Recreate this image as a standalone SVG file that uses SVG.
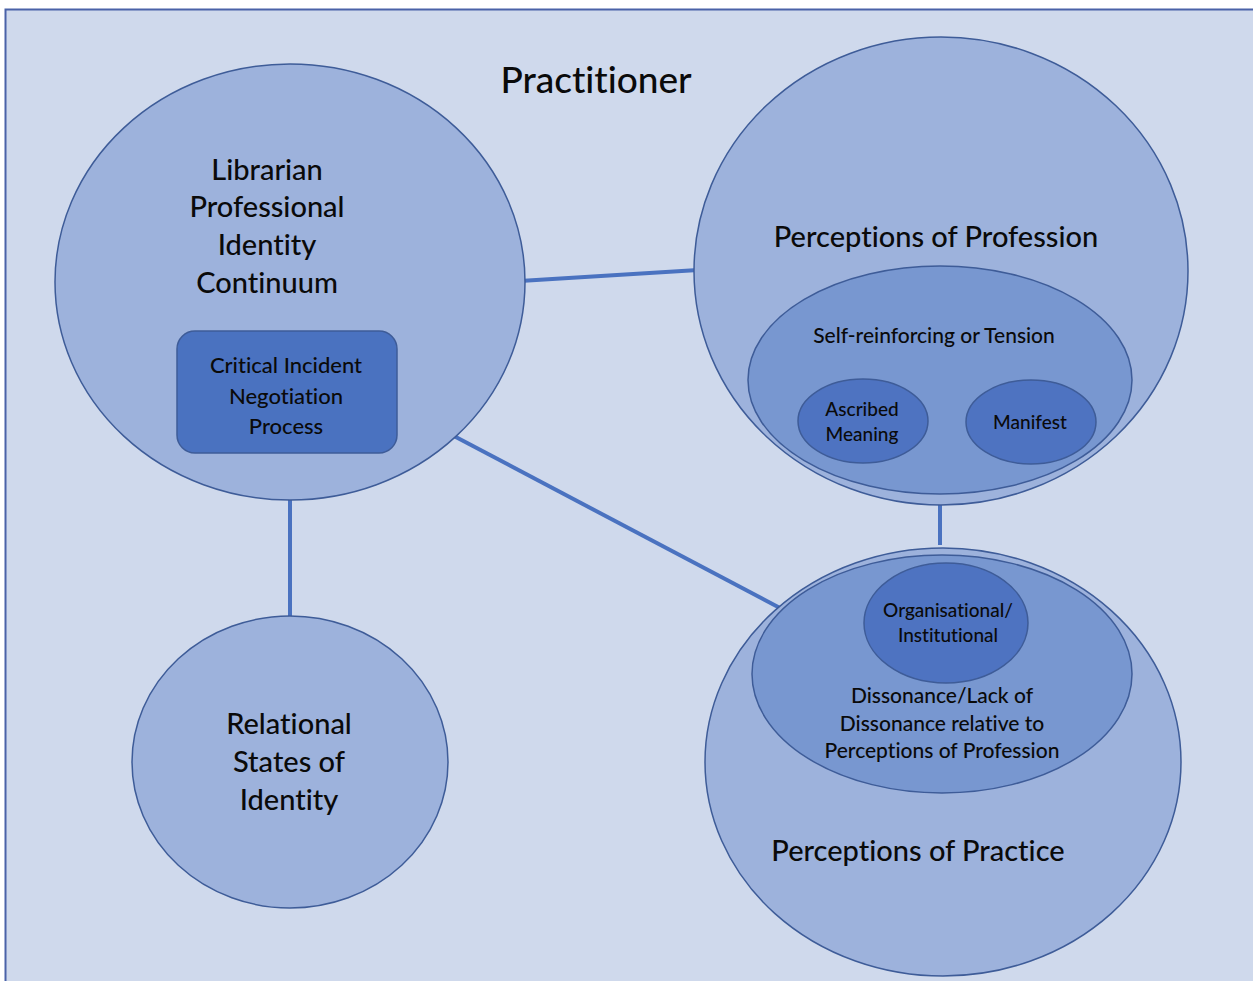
<svg xmlns="http://www.w3.org/2000/svg" width="1253" height="981" viewBox="0 0 1253 981">
<style>
.t{font-family:Lato,"Open Sans","Liberation Sans",sans-serif;fill:#0a0a0a;text-anchor:middle;dominant-baseline:central;font-weight:500;font-variant-ligatures:none}
.big{font-size:29px}
.mid{font-size:21px}
.c1{fill:#9db2dc;stroke:#3e5c98;stroke-width:1.5}
.c2{fill:#7897d0;stroke:#3e5c98;stroke-width:1.5}
.c3{fill:#4e73c1;stroke:#3e5c98;stroke-width:1.5}
.conn line{stroke:#4a72c0;stroke-width:4}
</style>
<rect width="1253" height="981" fill="#ffffff"/>
<rect x="5.5" y="9.5" width="1260" height="990" fill="#cfd9ec" stroke="#4a62a8" stroke-width="2"/>
<text class="t" x="596" y="78" font-size="37">Practitioner</text>
<g class="conn" id="connectors">
<line x1="520" y1="281" x2="698" y2="270"/>
<line x1="290" y1="495" x2="290" y2="620"/>
<line x1="452" y1="435" x2="780" y2="608"/>
<line x1="940" y1="495" x2="940" y2="545"/>
</g>
<g id="librarian">
<ellipse class="c1" cx="290" cy="282" rx="235" ry="218"/>
<text class="t big" x="267" y="168">Librarian</text>
<text class="t big" x="267" y="205">Professional</text>
<text class="t big" x="267" y="243">Identity</text>
<text class="t big" x="267" y="281">Continuum</text>
</g>
<g id="critical-incident">
<rect x="177" y="331" width="220" height="122" rx="18" fill="#4a72c0" stroke="#3e5c98" stroke-width="1.5"/>
<text class="t" x="286" y="364" font-size="22">Critical Incident</text>
<text class="t" x="286" y="395" font-size="22">Negotiation</text>
<text class="t" x="286" y="425" font-size="22">Process</text>
</g>
<g id="relational">
<ellipse class="c1" cx="290" cy="762" rx="158" ry="146"/>
<text class="t big" x="289" y="722">Relational</text>
<text class="t big" x="289" y="760">States of</text>
<text class="t big" x="289" y="798">Identity</text>
</g>
<g id="profession">
<ellipse class="c1" cx="941" cy="271" rx="247" ry="234"/>
<text class="t big" x="936" y="235">Perceptions of Profession</text>
</g>
<g id="self-reinforcing">
<ellipse class="c2" cx="940" cy="380" rx="192" ry="114"/>
<text class="t mid" x="934" y="334">Self-reinforcing or Tension</text>
</g>
<g id="ascribed">
<ellipse class="c3" cx="863" cy="421" rx="65" ry="42"/>
<text class="t" x="862" y="408" font-size="19">Ascribed</text>
<text class="t" x="862" y="433" font-size="19">Meaning</text>
</g>
<g id="manifest">
<ellipse class="c3" cx="1031" cy="422" rx="65" ry="42"/>
<text class="t" x="1030" y="421" font-size="19">Manifest</text>
</g>
<g id="practice">
<ellipse class="c1" cx="943" cy="762" rx="238" ry="214"/>
<text class="t big" x="918" y="849">Perceptions of Practice</text>
</g>
<g id="dissonance">
<ellipse class="c2" cx="942" cy="674" rx="190" ry="119"/>
<text class="t mid" x="942" y="694">Dissonance/Lack of</text>
<text class="t mid" x="942" y="722">Dissonance relative to</text>
<text class="t mid" x="942" y="749">Perceptions of Profession</text>
</g>
<g id="organisational">
<ellipse class="c3" cx="946" cy="623" rx="82" ry="60"/>
<text class="t" x="948" y="609" font-size="19">Organisational/</text>
<text class="t" x="948" y="634" font-size="19">Institutional</text>
</g>
</svg>
